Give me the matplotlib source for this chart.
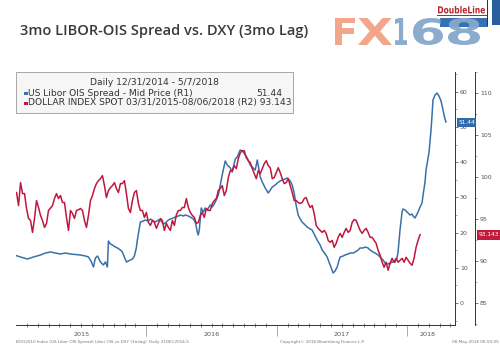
import numpy as np
import matplotlib
matplotlib.use('Agg')
import matplotlib.pyplot as plt
from matplotlib.patches import Rectangle, PathPatch
from matplotlib.textpath import TextPath
from matplotlib.font_manager import FontProperties
from matplotlib.transforms import Affine2D, blended_transform_factory

# ---------------- data ----------------
title = "3mo LIBOR-OIS Spread vs. DXY (3mo Lag)"
legend_title = "Daily 12/31/2014 - 5/7/2018"
blue_label = "US Libor OIS Spread - Mid Price (R1)"
red_label = "DOLLAR INDEX SPOT 03/31/2015-08/06/2018 (R2) 93.143"
blue_last = "51.44"
red_last = "93.143"

# US Libor OIS spread (R1, bp) : decimal-year dates and values
blue_dates = [2015.004, 2015.034, 2015.088, 2015.134, 2015.188, 2015.226, 2015.264, 2015.303,
              2015.341, 2015.379, 2015.418, 2015.456, 2015.494, 2015.533, 2015.556, 2015.579,
              2015.594, 2015.609, 2015.625, 2015.648, 2015.670, 2015.686, 2015.701, 2015.709,
              2015.724, 2015.739, 2015.762, 2015.778, 2015.801, 2015.816, 2015.831, 2015.847,
              2015.862, 2015.877, 2015.893, 2015.908, 2015.923, 2015.931, 2015.946, 2015.954,
              2015.977, 2015.992, 2016.015, 2016.031, 2016.054, 2016.069, 2016.092, 2016.107,
              2016.130, 2016.146, 2016.169, 2016.184, 2016.207, 2016.222, 2016.245, 2016.261,
              2016.284, 2016.299, 2016.322, 2016.337, 2016.360, 2016.375, 2016.391, 2016.398,
              2016.406, 2016.421, 2016.437, 2016.452, 2016.467, 2016.490, 2016.506, 2016.529,
              2016.552, 2016.567, 2016.582, 2016.605, 2016.621, 2016.644, 2016.659, 2016.682,
              2016.697, 2016.720, 2016.736, 2016.743, 2016.759, 2016.774, 2016.797, 2016.820,
              2016.835, 2016.851, 2016.858, 2016.874, 2016.889, 2016.912, 2016.935, 2016.950,
              2016.966, 2016.989, 2017.004, 2017.027, 2017.042, 2017.065, 2017.080, 2017.103,
              2017.119, 2017.134, 2017.149, 2017.165, 2017.180, 2017.195, 2017.218, 2017.234,
              2017.257, 2017.272, 2017.295, 2017.310, 2017.333, 2017.349, 2017.372, 2017.387,
              2017.410, 2017.425, 2017.433, 2017.448, 2017.464, 2017.479, 2017.487, 2017.510,
              2017.525, 2017.548, 2017.563, 2017.586, 2017.602, 2017.625, 2017.640, 2017.663,
              2017.678, 2017.701, 2017.716, 2017.739, 2017.755, 2017.778, 2017.793, 2017.816,
              2017.831, 2017.854, 2017.870, 2017.893, 2017.908, 2017.923, 2017.931, 2017.946,
              2017.962, 2017.969, 2017.985, 2018.000, 2018.023, 2018.038, 2018.046, 2018.061,
              2018.077, 2018.084, 2018.100, 2018.115, 2018.123, 2018.138, 2018.146, 2018.161,
              2018.169, 2018.184, 2018.192, 2018.199, 2018.215, 2018.230, 2018.245, 2018.261,
              2018.276, 2018.291, 2018.299]
blue_values = [13.44, 13.07, 12.50, 13.07, 13.64, 14.20, 14.49, 14.20,
               13.92, 14.20, 13.92, 13.78, 13.64, 13.35, 13.07, 11.65,
               10.23, 12.78, 13.35, 11.65, 10.80, 11.65, 10.23, 17.61,
               16.76, 16.48, 15.90, 15.63, 15.06, 14.49, 13.07, 11.65,
               11.93, 12.22, 12.50, 13.35, 15.63, 17.90, 21.30, 23.01,
               23.30, 23.58, 23.30, 23.86, 23.30, 23.01, 23.58, 23.58,
               22.44, 22.73, 23.58, 23.86, 24.15, 24.43, 24.72, 25.00,
               24.72, 25.00, 24.72, 24.43, 23.86, 23.01, 20.17, 19.32,
               20.74, 26.99, 25.85, 26.99, 26.42, 27.84, 27.27, 28.69,
               30.68, 33.52, 36.36, 40.34, 39.20, 38.35, 37.22, 40.91,
               41.48, 43.47, 43.18, 42.90, 42.05, 41.19, 39.20, 38.35,
               37.78, 40.63, 39.20, 35.80, 34.38, 32.67, 31.25, 32.10,
               32.95, 33.52, 34.09, 34.66, 34.94, 35.23, 35.51, 34.66,
               33.52, 31.25, 27.84, 25.00, 23.86, 23.01, 22.16, 21.59,
               21.02, 20.74, 19.03, 17.90, 16.48, 15.06, 13.92, 13.07,
               10.80, 9.38, 8.52, 9.09, 10.23, 12.22, 13.07, 13.35,
               13.64, 13.92, 14.20, 14.20, 14.49, 15.06, 15.63, 15.63,
               15.90, 15.63, 15.06, 14.49, 14.20, 13.64, 13.07, 12.22,
               11.36, 11.08, 11.36, 11.65, 11.65, 12.78, 14.49, 20.74,
               25.85, 26.70, 26.42, 25.85, 25.00, 25.28, 24.72, 24.15,
               25.28, 25.85, 27.27, 28.41, 30.68, 34.38, 37.78, 41.19,
               42.90, 49.15, 53.41, 57.67, 59.09, 59.66, 58.81, 57.39,
               54.83, 52.27, 51.44]

# Dollar index spot (R2), sampled at regular spacing from red_start to red_end
red_start, red_end = 2015.004, 2018.100
red_values = [98.15, 96.60, 99.34, 98.03, 98.03, 96.26, 95.07, 94.83, 93.41, 95.07,
              97.20, 96.37, 95.43, 94.83, 94.00, 94.48, 96.02, 96.30, 96.61, 97.44,
              98.03, 97.44, 97.80, 96.97, 96.97, 95.19, 93.65, 96.02, 95.66, 95.07,
              96.02, 96.10, 96.26, 96.02, 94.83, 94.00, 95.43, 97.20, 97.80, 98.63,
              99.22, 99.57, 99.81, 100.17, 98.98, 97.56, 98.39, 98.74, 98.98, 99.34,
              98.63, 98.15, 99.22, 99.22, 99.57, 98.03, 96.26, 95.78, 97.20, 98.15,
              98.39, 96.85, 96.02, 96.02, 95.19, 95.78, 94.60, 94.24, 94.83, 94.60,
              93.89, 94.48, 95.07, 94.83, 93.65, 94.48, 94.00, 93.65, 94.83, 94.24,
              95.50, 96.02, 96.02, 96.37, 96.37, 97.44, 96.37, 95.78, 95.43, 95.19,
              94.48, 94.60, 95.43, 95.78, 95.19, 96.26, 96.02, 96.02, 96.85, 97.20,
              97.44, 98.39, 98.63, 98.98, 97.80, 98.39, 99.93, 100.76, 100.76, 101.35,
              101.00, 102.18, 102.89, 103.13, 103.13, 102.30, 101.94, 101.71, 101.00, 100.40,
              99.81, 100.76, 100.40, 101.00, 101.59, 101.94, 101.35, 101.11, 99.81, 99.93,
              100.52, 101.11, 100.52, 99.81, 99.22, 99.34, 99.81, 98.98, 98.15, 97.20,
              97.20, 96.97, 96.85, 96.97, 97.44, 97.56, 96.85, 96.37, 96.61, 95.66,
              94.24, 93.89, 93.65, 93.41, 93.65, 93.29, 92.46, 92.23, 92.46, 91.64,
              92.11, 92.82, 93.29, 92.82, 93.41, 93.89, 93.41, 93.65, 94.60, 94.95,
              94.83, 94.24, 93.65, 93.29, 93.65, 93.89, 93.41, 92.82, 92.82, 92.46,
              92.11, 91.28, 90.69, 89.86, 89.27, 89.86, 88.91, 89.74, 90.33, 89.86,
              90.33, 89.86, 90.09, 90.33, 89.86, 90.45, 90.09, 89.74, 89.50, 90.33,
              91.64, 92.46, 93.14]

r1_ticks = [0, 10, 20, 30, 40, 50, 60]
r2_ticks = [85, 90, 95, 100, 105, 110]
year_labels = ["2015", "2016", "2017", "2018"]
year_label_pos = [2015.5, 2016.5, 2017.5, 2018.16]
year_bounds = [2016, 2017, 2018]

BLUE = '#3a70aa'
RED = '#c0173f'
TXT = '#555555'

W, H = 500, 351
fig = plt.figure(figsize=(W / 100, H / 100), dpi=100)
fig.patch.set_facecolor('white')

def fx(x):
    return x / W

def fy(y):
    return 1 - y / H

ax = fig.add_axes([15.5 / W, (H - 325) / H, 439.5 / W, 253 / H])
ax2 = ax.twinx()

red_dates = np.linspace(red_start, red_end, len(red_values))
ax.plot(blue_dates, blue_values, color=BLUE, lw=1.1, solid_joinstyle='round')
ax2.plot(red_dates, red_values, color=RED, lw=1.1, solid_joinstyle='round')

ax.set_xlim(2014.996, 2018.368)
ax.set_ylim(-6.25, 65.63)
ax2.set_ylim(82.39, 112.37)

# R1 axis (blue) on right
ax.yaxis.tick_right()
ax.set_yticks(r1_ticks)
ax.set_yticks(np.arange(-5, 66, 5), minor=True)
ax.tick_params(axis='y', which='major', direction='out', length=2.5, width=0.5,
               labelsize=4.5, labelcolor=TXT, color='#444444', pad=1)
ax.tick_params(axis='y', which='minor', direction='out', length=1.5, width=0.4, color='#666666')
for s in ['left', 'top']:
    ax.spines[s].set_visible(False)
ax.spines['right'].set_color('#333333')
ax.spines['right'].set_linewidth(0.7)
ax.spines['bottom'].set_color('#333333')
ax.spines['bottom'].set_linewidth(0.7)

# R2 axis (red)
for s in ['left', 'top', 'bottom']:
    ax2.spines[s].set_visible(False)
ax2.spines['right'].set_position(('outward', 14.4))
ax2.spines['right'].set_color('#333333')
ax2.spines['right'].set_linewidth(0.7)
ax2.set_yticks(r2_ticks)
ax2.set_yticks(np.arange(82.5, 112.6, 2.5), minor=True)
ax2.tick_params(axis='y', which='major', direction='out', length=2.5, width=0.5,
                labelsize=4.5, labelcolor=TXT, color='#444444', pad=1)
ax2.tick_params(axis='y', which='minor', direction='out', length=1.5, width=0.4, color='#666666')

# x axis
ax.set_xticks(year_bounds)
ax.set_xticklabels([])
months = [2015 + m / 12 for m in range(1, 41) if m % 12 != 0]
ax.set_xticks(months, minor=True)
ax.tick_params(axis='x', which='major', direction='out', length=8, width=0.5, color='#888888')
ax.tick_params(axis='x', which='minor', direction='inout', length=2.5, width=0.5, color='#555555')
btr = blended_transform_factory(ax.transData, ax.transAxes)
for lab, p in zip(year_labels, year_label_pos):
    ax.text(p, -10 / 253, lab, transform=btr, ha='center', va='center', fontsize=4.6, color=TXT)

# last value boxes
fig.add_artist(Rectangle((fx(457), fy(127)), 19 / W, 9 / H, transform=fig.transFigure,
                         facecolor='#2f6aaa', edgecolor='none'))
fig.text(fx(466.5), fy(122.5), blue_last, color='white', fontsize=4.2, ha='center', va='center')
fig.add_artist(Rectangle((fx(477), fy(240)), 23 / W, 10 / H, transform=fig.transFigure,
                         facecolor='#c01a3c', edgecolor='none'))
fig.text(fx(488.5), fy(235), red_last, color='white', fontsize=4.2, ha='center', va='center')

# legend box
LFS = 6.6
fig.add_artist(Rectangle((fx(16), fy(113)), 277 / W, 41 / H, transform=fig.transFigure,
                         facecolor='#f6f6f6', edgecolor='#9a9a9a', lw=0.6, zorder=3))
fig.text(fx(154.5), fy(82.5), legend_title, fontsize=LFS, color='#333333', ha='center', va='center', zorder=4)
fig.add_artist(Rectangle((fx(24), fy(95)), 3.5 / W, 3.5 / H, transform=fig.transFigure,
                         facecolor=BLUE, edgecolor='none', zorder=4))
fig.text(fx(28), fy(93), blue_label, fontsize=LFS, color='#333333', ha='left', va='center', zorder=4)
fig.text(fx(282), fy(93), blue_last, fontsize=LFS, color='#333333', ha='right', va='center', zorder=4)
fig.add_artist(Rectangle((fx(24), fy(105)), 3.5 / W, 3.5 / H, transform=fig.transFigure,
                         facecolor=RED, edgecolor='none', zorder=4))
fig.text(fx(28), fy(103), red_label, fontsize=LFS, color='#333333', ha='left', va='center', zorder=4)

# title
fig.text(fx(20), fy(31), title, fontsize=10.5, family='Open Sans', weight='semibold',
         color='#3a3a3a', ha='left', va='center')

# logos
def fitted(s, x0, y0, x1, y1, color, alpha=1.0, weight='bold'):
    fp = FontProperties(family='DejaVu Sans', weight=weight)
    tp = TextPath((0, 0), s, size=10, prop=fp)
    bb = tp.get_extents()
    sx = (x1 - x0) / bb.width
    sy = (y1 - y0) / bb.height
    tr = Affine2D().translate(-bb.x0, -bb.y0).scale(sx, sy).translate(x0, H - y1)
    fig.add_artist(PathPatch(tp, transform=tr, facecolor=color, edgecolor='none', alpha=alpha, zorder=5))

SALMON = '#f3a186'
LBLUE = '#86a8cb'
# DoubleLine logo
fig.add_artist(Rectangle((fx(440), fy(27)), 48 / W, 9 / H, transform=fig.transFigure,
                         facecolor='#3471b5', edgecolor='none', zorder=4))
fig.add_artist(Rectangle((fx(492), fy(25)), 8 / W, 25 / H, transform=fig.transFigure,
                         facecolor='#2a5f9e', edgecolor='none', zorder=4))
fig.add_artist(Rectangle((fx(487), fy(26)), 1 / W, 26 / H, transform=fig.transFigure,
                         facecolor='#333333', edgecolor='none', zorder=4))
fig.add_artist(Rectangle((fx(437), fy(15.8)), 50 / W, 0.6 / H, transform=fig.transFigure,
                         facecolor='#b5282e', edgecolor='none', zorder=4))
fitted("DoubleLine", 438, 6, 485, 13.5, '#b5282e')
# FX168 watermark
fitted("F", 335, 18, 355, 45, SALMON, 0.95)
fitted("X", 358, 18, 392, 45, SALMON, 0.95)
fitted("1", 395, 18, 407, 45, LBLUE, 0.95)
fitted("6", 413, 18, 443, 45, LBLUE, 0.95)
fitted("8", 448, 18, 480, 45, LBLUE, 0.95)

# footer
fig.text(fx(16), fy(342.5), "BOG2010 Index (US Libor OIS Spread) Libor OIS vs DXY (3mlag)  Daily 31DEC2014-5",
         fontsize=3.0, color='#777777', ha='left', va='center')
fig.text(fx(280), fy(342.5), "Copyright\u00a9 2018 Bloomberg Finance L.P.",
         fontsize=3.0, color='#777777', ha='left', va='center')
fig.text(fx(499), fy(342.5), "08-May-2018 06:50:05",
         fontsize=3.0, color='#777777', ha='right', va='center')

fig.savefig('out.png', dpi=100)
